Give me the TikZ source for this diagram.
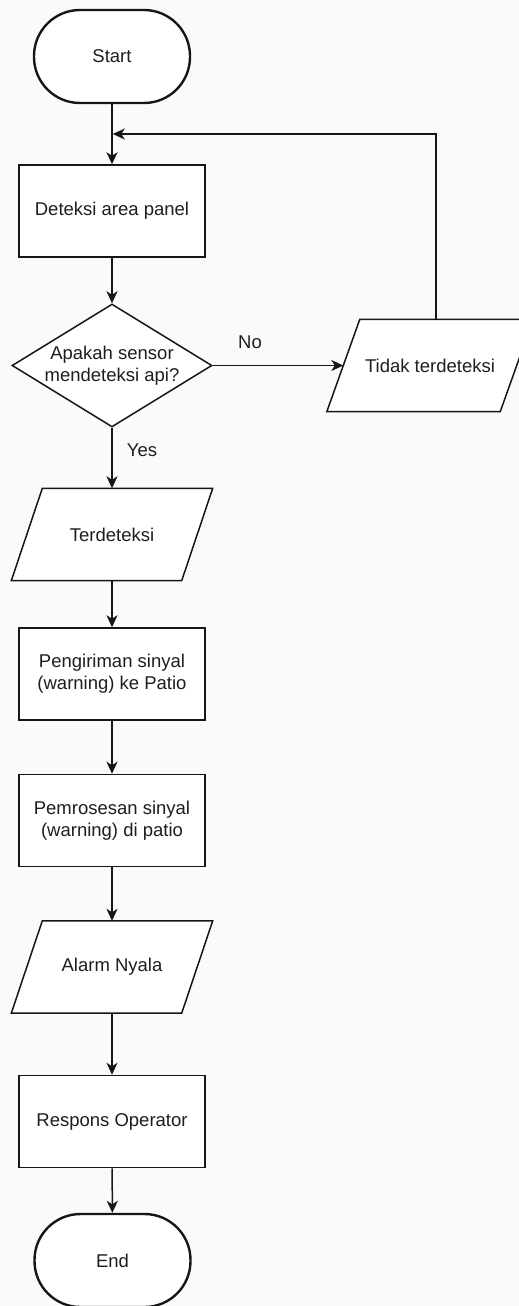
\documentclass[tikz,border=0pt]{standalone}
\usepackage{fontspec}
\setmainfont{Liberation Sans}
\usetikzlibrary{shapes.geometric,arrows.meta}
\definecolor{bg}{RGB}{249,250,251}
\definecolor{ln}{RGB}{22,22,22}
\definecolor{tx}{RGB}{30,30,30}
\pgfdeclarelayer{back}
\pgfsetlayers{back,main}
\begin{document}
\begin{tikzpicture}[x=1pt,y=-1pt,
  txt/.style={text=tx, font=\fontsize{18.5}{22.3}\selectfont, align=center},
  base/.style={txt, draw=ln, fill=white, line width=1.5pt, inner sep=0pt},
  term/.style={base, rectangle, rounded corners=46pt, minimum width=156pt, minimum height=93pt, line width=2.4pt},
  proc/.style={base, rectangle, minimum width=186pt, minimum height=92pt},
  iotext/.style={txt, rectangle, inner sep=0pt, minimum width=170pt, minimum height=92pt},
  iobox/.style={draw=ln, fill=white, line width=1.5pt, line join=miter},
  decision/.style={base, diamond, minimum width=200pt, minimum height=123pt},
  flow/.style={draw=ln, line width=1.5pt, -{Stealth[length=12pt,width=11pt,inset=3.5pt]}},
  lbl/.style={txt, inner sep=0pt}
]
\begin{pgfonlayer}{back}
\fill[bg] (0,0) rectangle (519,1306);
\end{pgfonlayer}
\useasboundingbox (0,0) rectangle (519,1306);
\clip (0,0) rectangle (519,1306);

\node[term] (start) at (112,56.5) {Start};
\node[proc] (det) at (112,211) {Deteksi area panel};
\node[decision, label={[lbl]center:Apakah sensor\\mendeteksi api?}] (dec) at (112,365.5) {};
\node[iotext, minimum width=173pt] (tidak) at (430,365.5) {Tidak terdeteksi};
\node[iotext] (terd) at (112,534.5) {Terdeteksi};
\node[proc] (kirim) at (112,674) {Pengiriman sinyal\\(warning) ke Patio};
\node[proc] (proses) at (112,820.5) {Pemrosesan sinyal\\(warning) di patio};
\node[iotext] (alarm) at (112,967) {Alarm Nyala};
\node[proc] (resp) at (112,1121.5) {Respons Operator};
\node[term] (end) at (112.5,1260.5) {End};

\begin{pgfonlayer}{back}
\path[iobox] ([xshift=16.5pt]tidak.north west) -- ([xshift=16.5pt]tidak.north east)
  -- ([xshift=-16.5pt]tidak.south east) -- ([xshift=-16.5pt]tidak.south west) -- cycle;
\path[iobox] ([xshift=15.5pt]terd.north west) -- ([xshift=15.5pt]terd.north east)
  -- ([xshift=-15.5pt]terd.south east) -- ([xshift=-15.5pt]terd.south west) -- cycle;
\path[iobox] ([xshift=15.5pt]alarm.north west) -- ([xshift=15.5pt]alarm.north east)
  -- ([xshift=-15.5pt]alarm.south east) -- ([xshift=-15.5pt]alarm.south west) -- cycle;
\end{pgfonlayer}

\coordinate (merge) at (112.8,134);

\draw[flow] (start) -- (det);
\draw[flow] (det) -- (dec);
\draw[flow] (dec.east) -- (tidak.west);
\draw[flow] ([xshift=6pt]tidak.north) |- (merge);
\draw[flow] (dec) -- (terd);
\draw[flow] (terd) -- (kirim);
\draw[flow] (kirim) -- (proses);
\draw[flow] (proses) -- (alarm);
\draw[flow] (alarm) -- (resp);
\draw[flow] (resp) -- (end);

\node[lbl] (no) at (250,342) {No};
\node[lbl] (yes) at (142,450) {Yes};
\end{tikzpicture}
\end{document}
